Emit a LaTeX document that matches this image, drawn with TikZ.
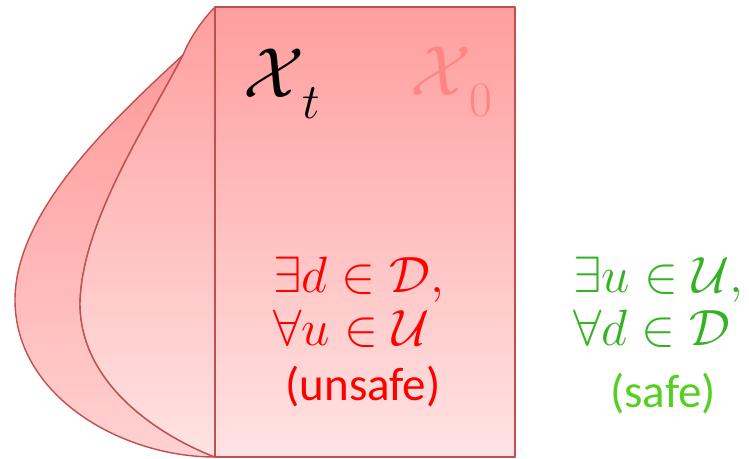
\RequirePackage{fix-cm}
\documentclass[tikz,border=0pt]{standalone}
\usepackage{fontspec}
\newfontfamily\calib{Carlito}
\definecolor{edgered}{HTML}{C0504D}
\definecolor{pinktop}{HTML}{FF9E9E}
\definecolor{pinkbot}{HTML}{FFE3E3}
\definecolor{backtop}{HTML}{FF9A9A}
\definecolor{backbot}{HTML}{FFD2D2}
\definecolor{xzero}{HTML}{FF8585}
\definecolor{mathgreen}{HTML}{34B224}
\definecolor{safegreen}{HTML}{55D022}
\definecolor{unsafered}{HTML}{FF0000}
\newcommand{\lowsub}[1]{\raisebox{-11pt}{$\scriptstyle #1$}}
\tikzset{
  regionedge/.style={draw=edgered, line width=1.4pt, line join=round},
  bigmath/.style={inner sep=0pt, font=\fontsize{71}{75}\selectfont},
  condline/.style={inner sep=0pt, anchor=base west, font=\fontsize{51}{54}\selectfont},
  verdict/.style={inner sep=0pt, anchor=base, font=\calib\fontsize{47}{50}\selectfont},
}
\begin{document}
\begin{tikzpicture}[x=1pt, y=-1pt]
\useasboundingbox (0,0) rectangle (749,458);
% back (outer) shape
\shade[regionedge, top color=backtop, bottom color=backbot]
  (183,55) .. controls (115,118) and (15,210) .. (15,300)
  .. controls (15,395) and (120,457) .. (215,457)
  .. controls (170,440) and (80,390) .. (80,303)
  .. controls (82,220) and (150,120) .. (183,55) -- cycle;
% front (inner) shape
\shade[regionedge, top color=pinktop, bottom color=pinkbot]
  (215,7) .. controls (202,20) and (190,38) .. (183,55)
  .. controls (150,120) and (82,220) .. (80,303)
  .. controls (80,390) and (170,440) .. (215,457) -- cycle;
% main rectangle
\shade[regionedge, top color=pinktop, bottom color=pinkbot]
  (215,7) rectangle (515,457);
% labels
\node[bigmath, anchor=base west] (xt) at (243,97) {$\mathcal{X}_{\,\lowsub{t}}$};
\node[bigmath, anchor=base west, text=xzero] (x0) at (410,95) {$\mathcal{X}_{\,\lowsub{0}}$};
\node[condline, text=unsafered] (u1) at (273,292) {$\exists d\in\mathcal{D},$};
\node[condline, text=unsafered] (u2) at (273,345) {$\forall u\in\mathcal{U}$};
\node[verdict, text=unsafered] (unsafe) at (363,400) {(unsafe)};
\node[condline, text=mathgreen] (s1) at (573,292) {$\exists u\in\mathcal{U},$};
\node[condline, text=mathgreen] (s2) at (573,345) {$\forall d\in\mathcal{D}$};
\node[verdict, text=safegreen] (safe) at (663,407) {(safe)};
\end{tikzpicture}
\end{document}
